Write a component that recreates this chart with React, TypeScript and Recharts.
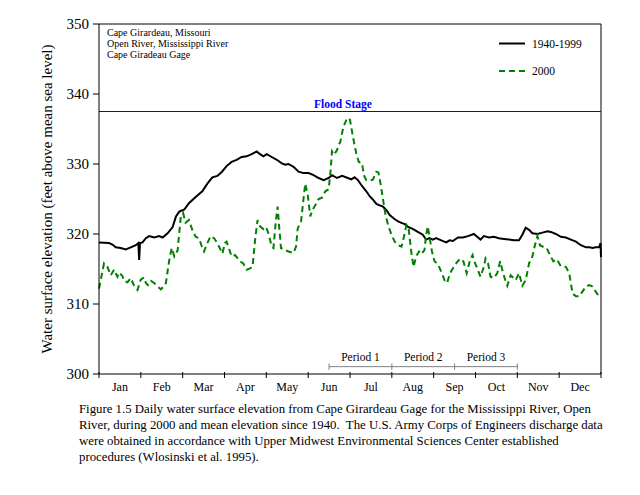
import React from "react";
import { LineChart, Line, XAxis, YAxis, ReferenceLine } from "recharts";

const FONT = "'Liberation Serif', 'Times New Roman', serif";

const MONTHS = ["Jan", "Feb", "Mar", "Apr", "May", "Jun", "Jul", "Aug", "Sep", "Oct", "Nov", "Dec"];
const MONTH_TICKS = [0, 1, 2, 3, 4, 5, 6, 7, 8, 9, 10, 11, 12];
const ELEV_TICKS = [300, 310, 320, 330, 340, 350];
const FLOOD_STAGE = 337.5;

const SITE_LINES = ["Cape Girardeau, Missouri", "Open River, Mississippi River", "Cape Giradeau Gage"];

// periods along the x axis (in months), drawn as a bracket near the bottom
const PERIODS = [
  { name: "Period 1", start: 5.5, end: 7 },
  { name: "Period 2", start: 7, end: 8.5 },
  { name: "Period 3", start: 8.5, end: 10 },
];
const BRACKET_Y = 301.05;

// [month position, elevation]
const MEAN_1940_1999: [number, number][] = [
  [0, 318.8], [0.24, 318.7], [0.32, 318.5], [0.4, 318.1], [0.52, 318.0], [0.64, 317.8],
  [0.76, 318.1], [0.88, 318.4], [0.94, 318.7], [0.96, 316.3], [0.98, 318.7], [1.04, 318.8],
  [1.12, 319.4], [1.2, 319.7], [1.32, 319.5], [1.44, 319.7], [1.52, 319.5], [1.64, 320.1],
  [1.76, 321.0], [1.84, 322.5], [1.92, 323.2], [2.04, 323.5], [2.15, 324.4], [2.31, 325.3],
  [2.47, 326.1], [2.59, 327.2], [2.71, 328.1], [2.83, 328.3], [2.94, 328.9], [3.05, 329.7],
  [3.17, 330.3], [3.29, 330.6], [3.41, 331.0], [3.53, 331.1], [3.65, 331.4], [3.77, 331.8],
  [3.85, 331.4], [3.93, 331.1], [4.01, 331.4], [4.13, 331.0], [4.25, 330.6], [4.37, 330.1],
  [4.45, 329.9], [4.53, 330.0], [4.65, 329.6], [4.77, 328.9], [4.89, 328.7], [5.01, 328.7],
  [5.13, 328.4], [5.25, 328.0], [5.37, 327.7], [5.49, 328.0], [5.57, 328.4], [5.69, 328.0],
  [5.81, 328.3], [5.95, 328.0], [6.03, 327.8], [6.11, 328.1], [6.19, 327.7], [6.27, 327.0],
  [6.39, 326.1], [6.47, 325.4], [6.55, 324.9], [6.63, 324.3], [6.71, 324.1], [6.79, 323.9],
  [6.87, 323.4], [6.95, 322.7], [7.07, 322.1], [7.15, 321.8], [7.23, 321.6], [7.31, 321.4],
  [7.39, 321.0], [7.51, 320.7], [7.62, 320.3], [7.74, 319.9], [7.82, 319.2], [7.9, 319.4],
  [7.98, 319.2], [8.06, 319.4], [8.18, 319.1], [8.3, 318.8], [8.38, 319.1], [8.46, 319.0],
  [8.58, 319.5], [8.7, 319.5], [8.82, 319.7], [8.96, 320.0], [9.04, 319.6], [9.12, 319.2],
  [9.2, 319.7], [9.32, 319.5], [9.44, 319.6], [9.56, 319.4], [9.68, 319.3], [9.8, 319.2],
  [9.92, 319.1], [10.04, 319.1], [10.12, 319.9], [10.2, 320.9], [10.28, 320.6], [10.36, 320.1],
  [10.48, 320.0], [10.6, 320.2], [10.72, 320.4], [10.8, 320.3], [10.92, 320.0], [11.04, 319.6],
  [11.16, 319.5], [11.28, 319.2], [11.4, 318.9], [11.52, 318.4], [11.64, 318.1], [11.72, 318.1],
  [11.8, 318.0], [11.87, 318.1], [11.95, 318.1], [11.99, 318.7], [12, 316.7],
];

const YEAR_2000: [number, number][] = [
  [0, 312.2], [0.04, 313.4], [0.12, 315.8], [0.2, 315.3], [0.28, 314.1], [0.36, 314.9],
  [0.44, 313.9], [0.48, 314.5], [0.56, 314.0], [0.6, 313.3], [0.68, 313.1], [0.76, 313.7],
  [0.84, 312.6], [0.92, 312.0], [1.0, 313.5], [1.08, 313.8], [1.12, 313.0], [1.17, 312.7],
  [1.24, 313.3], [1.32, 313.0], [1.4, 312.5], [1.48, 312.1], [1.56, 312.6], [1.6, 313.0],
  [1.68, 316.3], [1.74, 318.0], [1.8, 316.8], [1.88, 317.7], [1.95, 322.2], [2.01, 323.0],
  [2.07, 321.6], [2.15, 322.0], [2.23, 320.6], [2.31, 319.6], [2.39, 319.4], [2.47, 318.0],
  [2.51, 317.5], [2.59, 318.7], [2.67, 319.7], [2.75, 319.4], [2.83, 318.7], [2.95, 317.2],
  [3.01, 318.7], [3.05, 318.9], [3.09, 318.2], [3.17, 316.8], [3.25, 317.0], [3.32, 316.5],
  [3.37, 316.1], [3.45, 315.8], [3.53, 314.9], [3.61, 315.1], [3.67, 315.3], [3.73, 319.1],
  [3.79, 322.0], [3.85, 321.1], [3.93, 320.7], [3.99, 321.0], [4.05, 320.1], [4.13, 318.2],
  [4.17, 318.0], [4.23, 322.0], [4.27, 323.9], [4.31, 320.8], [4.35, 318.0], [4.45, 317.7],
  [4.53, 317.5], [4.65, 317.3], [4.71, 318.2], [4.75, 320.8], [4.83, 321.8], [4.89, 325.1],
  [4.93, 327.2], [4.99, 325.6], [5.05, 322.5], [5.1, 323.4], [5.17, 324.1], [5.25, 325.0],
  [5.33, 325.2], [5.41, 326.1], [5.49, 326.4], [5.53, 328.7], [5.57, 331.8], [5.62, 331.3],
  [5.69, 332.0], [5.73, 332.7], [5.77, 333.2], [5.84, 335.3], [5.92, 336.4], [5.97, 336.6],
  [6.0, 336.3], [6.07, 333.9], [6.15, 331.5], [6.21, 330.3], [6.29, 330.1], [6.33, 328.4],
  [6.39, 327.7], [6.47, 327.6], [6.55, 327.8], [6.63, 328.9], [6.68, 328.8], [6.73, 327.2],
  [6.79, 324.9], [6.84, 323.0], [6.91, 321.3], [6.99, 319.9], [7.07, 318.9], [7.15, 318.4],
  [7.23, 318.2], [7.27, 319.1], [7.35, 321.3], [7.4, 320.8], [7.47, 317.2], [7.52, 315.3],
  [7.58, 316.8], [7.65, 317.5], [7.7, 317.1], [7.78, 317.7], [7.82, 319.9], [7.86, 321.1],
  [7.9, 319.6], [7.96, 317.5], [8.02, 316.1], [8.1, 315.7], [8.18, 314.6], [8.26, 313.4],
  [8.32, 313.0], [8.39, 314.4], [8.51, 315.6], [8.63, 316.5], [8.71, 316.1], [8.79, 314.4],
  [8.87, 316.3], [8.93, 317.0], [8.96, 316.3], [9.04, 315.1], [9.12, 313.9], [9.2, 315.3],
  [9.24, 316.5], [9.3, 315.8], [9.36, 313.9], [9.44, 313.7], [9.52, 314.4], [9.59, 316.1],
  [9.64, 314.9], [9.72, 313.2], [9.76, 312.6], [9.84, 314.1], [9.91, 313.7], [9.96, 313.4],
  [10.04, 314.4], [10.12, 312.6], [10.2, 313.4], [10.28, 315.8], [10.36, 316.8], [10.42, 318.4],
  [10.48, 319.7], [10.54, 318.4], [10.64, 318.1], [10.7, 318.0], [10.78, 317.0], [10.86, 316.1],
  [10.94, 316.4], [11.04, 315.4], [11.16, 315.3], [11.24, 314.4], [11.32, 311.5], [11.4, 311.1],
  [11.48, 311.1], [11.56, 311.8], [11.64, 312.5], [11.72, 312.7], [11.8, 312.5], [11.87, 311.8],
  [11.95, 311.1], [12, 311.1],
];

const CAPTION = [
  "Figure 1.5 Daily water surface elevation from Cape Girardeau Gage for the Mississippi River, Open",
  "River, during 2000 and mean elevation since 1940.  The U.S. Army Corps of Engineers discharge data",
  "were obtained in accordance with Upper Midwest Environmental Sciences Center established",
  "procedures (Wlosinski et al. 1995).",
];

const toPoints = (rows: [number, number][]) => rows.map(([month, elev]) => ({ month, elev }));

const meanData = toPoints(MEAN_1940_1999);
const data2000 = toPoints(YEAR_2000);

const PLOT_WIDTH = 502;

const MonthTick = (props: any) => {
  const { x, y, payload } = props;
  const i = MONTH_TICKS.indexOf(payload.value);
  return (
    <g>
      <line x1={x} x2={x} y1={y - 2} y2={y + 4} stroke="#000" />
      {i < MONTHS.length && (
        <text
          x={x + PLOT_WIDTH / 24}
          y={y + 17}
          textAnchor="middle"
          fontSize={12}
          fontFamily={FONT}
          fill="#000"
        >
          {MONTHS[i]}
        </text>
      )}
    </g>
  );
};

export default function App() {
  return (
    <div style={{ position: "relative", width: 640, height: 495, margin: -8, background: "#fff" }}>
      <LineChart width={640} height={400} margin={{ top: 24, right: 39, left: 0, bottom: 0 }}>
        <XAxis
          type="number"
          dataKey="month"
          domain={[0, 12]}
          ticks={MONTH_TICKS}
          interval={0}
          tickLine={false}
          tickSize={0}
          tickMargin={0}
          tick={<MonthTick />}
          height={26}
          stroke="#000"
        />
        <YAxis
          type="number"
          domain={[300, 350]}
          ticks={ELEV_TICKS}
          interval={0}
          width={99}
          tickSize={6}
          tickMargin={4}
          stroke="#000"
          tick={{ fill: "#000", fontSize: 15, fontFamily: FONT }}
          label={{
            value: "Water surface elevation (feet above mean sea level)",
            angle: -90,
            position: "center",
            dx: -3,
            fill: "#000",
            fontSize: 15,
            fontFamily: FONT,
          }}
        />
        <ReferenceLine y={350} stroke="#000" />
        <ReferenceLine x={12} stroke="#000" />
        <ReferenceLine
          y={FLOOD_STAGE}
          stroke="#0000ff"
          strokeWidth={1.2}
          label={{
            value: "Flood Stage",
            position: "top",
            offset: 4,
            dx: -7,
            fill: "#0000ff",
            fontSize: 11.5,
            fontWeight: "bold",
            fontFamily: FONT,
          }}
        />
        {PERIODS.map((p) => (
          <ReferenceLine
            key={p.name}
            segment={[
              { x: p.start, y: BRACKET_Y },
              { x: p.end, y: BRACKET_Y },
            ]}
            stroke="#808080"
            label={{ value: p.name, position: "top", offset: 6, fill: "#000", fontSize: 11.5, fontFamily: FONT }}
          />
        ))}
        {[PERIODS[0].start, ...PERIODS.map((p) => p.end)].map((b) => (
          <ReferenceLine
            key={`b-${b}`}
            segment={[
              { x: b, y: BRACKET_Y - 0.45 },
              { x: b, y: BRACKET_Y + 0.45 },
            ]}
            stroke="#808080"
          />
        ))}
        <Line
          data={meanData}
          dataKey="elev"
          type="linear"
          stroke="#000"
          strokeWidth={2}
          dot={false}
          isAnimationActive={false}
        />
        <Line
          data={data2000}
          dataKey="elev"
          type="linear"
          stroke="#008000"
          strokeWidth={2}
          strokeDasharray="6 4"
          dot={false}
          isAnimationActive={false}
        />
      </LineChart>

      <svg
        width={640}
        height={400}
        style={{ position: "absolute", left: 0, top: 0, pointerEvents: "none" }}
      >
        {SITE_LINES.map((s, i) => (
          <text key={s} x={107} y={36 + i * 11} fontSize={10} fontFamily={FONT} fill="#000">
            {s}
          </text>
        ))}
        <line x1={499} x2={525} y1={43.5} y2={43.5} stroke="#000" strokeWidth={2} />
        <text x={532} y={47.5} fontSize={11.5} fontFamily={FONT} fill="#000">
          1940-1999
        </text>
        <line x1={499} x2={525} y1={71} y2={71} stroke="#008000" strokeWidth={2} strokeDasharray="6 4" />
        <text x={532} y={75} fontSize={11.5} fontFamily={FONT} fill="#000">
          2000
        </text>
      </svg>

      <div
        style={{
          position: "absolute",
          left: 79,
          top: 401,
          fontFamily: FONT,
          fontSize: 12.8,
          lineHeight: "16px",
          color: "#000",
          whiteSpace: "pre",
        }}
      >
        {CAPTION.map((line) => (
          <div key={line}>{line}</div>
        ))}
      </div>
    </div>
  );
}
